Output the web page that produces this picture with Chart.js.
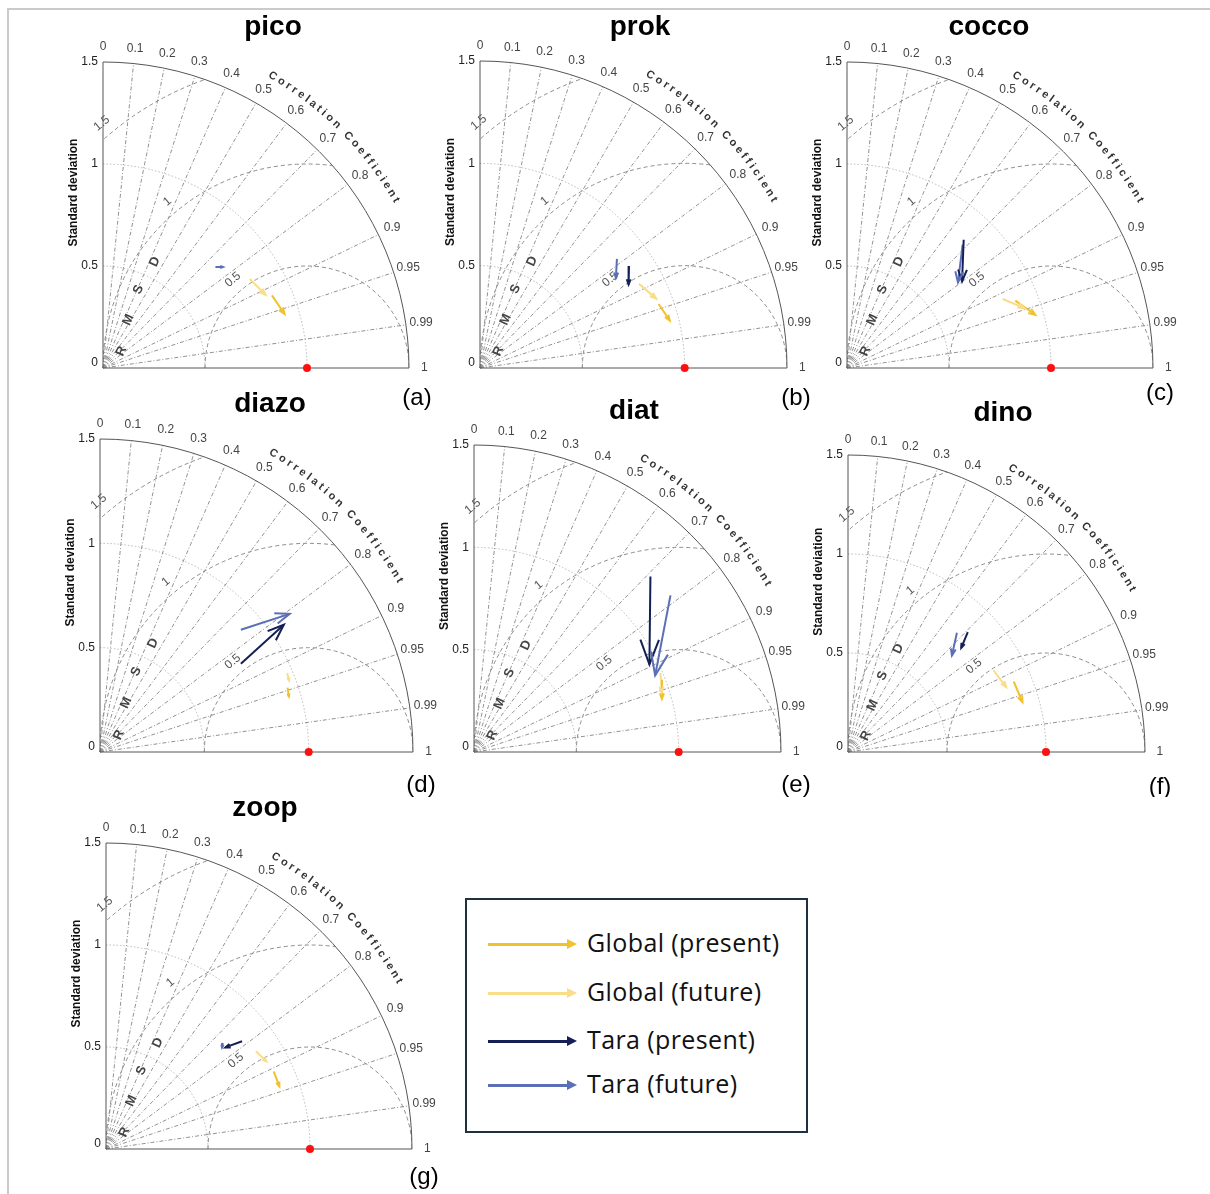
<!DOCTYPE html>
<html>
<head>
<meta charset="utf-8">
<script src="https://cdn.jsdelivr.net/npm/chart.js@4.4.1/dist/chart.umd.min.js"></script>
<style>
html, body { margin: 0; padding: 0; background: #fff; }
#page { position: relative; width: 1210px; height: 1194px; overflow: hidden; font-family: 'Liberation Sans', Arial, sans-serif; }
#page canvas { position: absolute; }
.marco-top { position: absolute; left: 7px; top: 8px; width: 1203px; height: 2px; background: #cacaca; }
.marco-izq { position: absolute; left: 7px; top: 8px; width: 2px; height: 1186px; background: #cacaca; }
#leyenda { position: absolute; left: 465px; top: 898px; width: 339px; height: 231px; border: 2px solid #1d3142; }
.fila { position: absolute; left: 21px; height: 30px; width: 320px; }
.asta { position: absolute; left: 0; top: 14px; width: 80px; height: 3px; }
.punta { position: absolute; left: 79px; top: 10px; width: 0; height: 0; border-top: 5px solid transparent; border-bottom: 5px solid transparent; border-left: 10px solid; }
.texto { position: absolute; left: 99px; top: -4px; font-family: 'Open Sans', sans-serif; font-size: 25px; letter-spacing: 0.4px; color: #111; white-space: nowrap; }
</style>
</head>
<body>
<div id="page">
  <div class="marco-top"></div>
  <div class="marco-izq"></div>
  <div id="leyenda"></div>
</div>
<script>
'use strict';

// ---- datos ----
const panelNames = ['pico', 'prok', 'cocco', 'diazo', 'diat', 'dino', 'zoop'];
const panelTags = ['(a)', '(b)', '(c)', '(d)', '(e)', '(f)', '(g)'];
const seriesNames = ['Global (present)', 'Global (future)', 'Tara (present)', 'Tara (future)'];

const corrTicks = [0, 0.1, 0.2, 0.3, 0.4, 0.5, 0.6, 0.7, 0.8, 0.9, 0.95, 0.99, 1];
const stdTicks = [0, 0.5, 1, 1.5];
const rmsdTicks = [0.5, 1, 1.5];
const refPoint = [1, 0];

// flechas [x0, y0, x1, y1] (sd*cos, sd*sin) por panel; null = no se ve
const globalPresent = [
    [0.828, 0.356, 0.890, 0.265],
    [0.873, 0.313, 0.927, 0.232],
    [0.825, 0.330, 0.923, 0.261],
    [0.899, 0.308, 0.905, 0.266],
    [0.919, 0.353, 0.918, 0.260],
    [0.837, 0.356, 0.881, 0.252],
    [0.822, 0.381, 0.850, 0.307]
];
const globalFuture = [
    [0.719, 0.436, 0.797, 0.359],
    [0.777, 0.411, 0.861, 0.339],
    [0.763, 0.338, 0.869, 0.294],
    [0.897, 0.378, 0.906, 0.343],
    [0.911, 0.386, 0.917, 0.293],
    [0.735, 0.412, 0.799, 0.328],
    [0.735, 0.479, 0.786, 0.430]
];
const taraPresent = [
    null,
    [0.728, 0.498, 0.726, 0.408],
    [0.572, 0.629, 0.564, 0.425],
    [0.675, 0.423, 0.881, 0.610],
    [0.862, 0.857, 0.857, 0.428],
    [0.605, 0.605, 0.572, 0.526],
    [0.667, 0.528, 0.585, 0.498]
];
const taraFuture = [
    [0.551, 0.495, 0.588, 0.495],
    [0.669, 0.533, 0.664, 0.440],
    [0.567, 0.605, 0.544, 0.420],
    [0.675, 0.586, 0.909, 0.662],
    [0.960, 0.765, 0.885, 0.374],
    [0.550, 0.602, 0.525, 0.488],
    [0.572, 0.520, 0.569, 0.498]
];

const seriesData = [globalPresent, globalFuture, taraPresent, taraFuture];
const seriesColors = ['#f2c12e', '#f9dd88', '#141f55', '#5b6fb6'];

// ---- posiciones de cada panel (origen, radio 1.5 en px, título, letra) ----
const layout = [
    { ox: 103, oy: 368, r: 306, title: [273, 27], tag: [417, 398] },
    { ox: 480, oy: 368, r: 307, title: [640, 27], tag: [796, 398] },
    { ox: 847, oy: 368, r: 306, title: [989, 27], tag: [1160, 393] },
    { ox: 100, oy: 752, r: 313, title: [270, 404], tag: [421, 785] },
    { ox: 474, oy: 752, r: 307, title: [634, 411], tag: [796, 785] },
    { ox: 848, oy: 752, r: 297, title: [1003, 413], tag: [1160, 787] },
    { ox: 106, oy: 1149, r: 306, title: [265, 808], tag: [424, 1177] }
];
const PAD = { left: 50, top: 60, right: 50, bottom: 45 };

function texto(ctx, str, x, y, rot, font, color, align, base) {
    ctx.save();
    ctx.translate(x, y);
    ctx.rotate(rot);
    ctx.font = font;
    ctx.fillStyle = color;
    ctx.textAlign = align || 'center';
    ctx.textBaseline = base || 'middle';
    ctx.fillText(str, 0, 0);
    ctx.restore();
}

const taylorPlugin = {
    id: 'taylor',
    beforeDatasetsDraw(chart, args, opts) {
        const ctx = chart.ctx;
        const X = v => chart.scales.x.getPixelForValue(v);
        const Y = v => chart.scales.y.getPixelForValue(v);
        const ox = X(0), oy = Y(0), u = X(1) - X(0);
        const rMax = stdTicks[stdTicks.length - 1];

        ctx.save();
        ctx.lineWidth = 1;

        // arcos de desviación estándar
        ctx.strokeStyle = '#b8b8b8';
        ctx.setLineDash([1.5, 2]);
        stdTicks.filter(s => s > 0 && s < rMax).forEach(s => {
            ctx.beginPath();
            ctx.arc(ox, oy, s * u, -Math.PI / 2, 0);
            ctx.stroke();
        });

        // arcos RMSD, recortados al cuarto de círculo
        ctx.save();
        ctx.beginPath();
        ctx.moveTo(ox, oy);
        ctx.arc(ox, oy, rMax * u, -Math.PI / 2, 0);
        ctx.closePath();
        ctx.clip();
        ctx.strokeStyle = '#8c8c8c';
        ctx.setLineDash([4, 3]);
        rmsdTicks.forEach(r => {
            ctx.beginPath();
            ctx.arc(X(refPoint[0]), Y(refPoint[1]), r * u, Math.PI, 2 * Math.PI);
            ctx.stroke();
        });
        ctx.restore();

        // radios de correlación
        ctx.strokeStyle = '#929292';
        ctx.setLineDash([4, 2, 1, 2]);
        corrTicks.filter(c => c > 0 && c < 1).forEach(c => {
            const t = Math.acos(c);
            ctx.beginPath();
            ctx.moveTo(ox, oy);
            ctx.lineTo(X(rMax * Math.cos(t)), Y(rMax * Math.sin(t)));
            ctx.stroke();
        });

        // borde exterior
        ctx.setLineDash([]);
        ctx.strokeStyle = '#555';
        ctx.beginPath();
        ctx.arc(ox, oy, rMax * u, -Math.PI / 2, 0);
        ctx.stroke();
        ctx.beginPath();
        ctx.moveTo(ox, Y(rMax));
        ctx.lineTo(ox, oy);
        ctx.lineTo(X(rMax), oy);
        ctx.stroke();
        ctx.restore();

        // etiquetas de correlación
        corrTicks.forEach(c => {
            const t = Math.acos(c);
            texto(ctx, String(c), X(1.575 * Math.cos(t)), Y(1.575 * Math.sin(t)), 0,
                '12px "Liberation Sans", Arial', '#444');
        });

        // etiquetas de desviación estándar
        stdTicks.forEach(s => {
            texto(ctx, String(s), ox - 5, Y(s) - (s === 0 ? 5 : 0), 0,
                '12px "Liberation Sans", Arial', '#222', 'right');
        });
        texto(ctx, 'Standard deviation', ox - 29, Y(0.86), -Math.PI / 2,
            'bold 12px "Liberation Sans", Arial', '#111');

        // etiquetas RMSD
        const phi = 130 * Math.PI / 180;
        rmsdTicks.forEach(r => {
            const rr = r + 0.065;
            texto(ctx, String(r), X(refPoint[0] + rr * Math.cos(phi)), Y(refPoint[1] + rr * Math.sin(phi)),
                -(phi - Math.PI / 2), '12px "Liberation Sans", Arial', '#555');
        });
        const rmsdPos = [[0.09, 0.082], [0.125, 0.236], [0.174, 0.385], [0.255, 0.521]];
        'RMSD'.split('').forEach((ch, i) => {
            texto(ctx, ch, X(rmsdPos[i][0]), Y(rmsdPos[i][1]), -1.15,
                'bold 13px "Liberation Sans", Arial', '#444');
        });

        // "Correlation Coefficient" sobre el arco
        const lab = 'Correlation Coefficient';
        const rr = 1.655 * u;
        const a0 = 60.5 * Math.PI / 180, a1 = 29.5 * Math.PI / 180;
        ctx.save();
        ctx.font = 'bold 11px "Liberation Sans", Arial';
        const anchos = lab.split('').map(ch => ctx.measureText(ch).width);
        const total = anchos.reduce((s, w) => s + w, 0);
        const esp = ((a0 - a1) * rr - total) / (lab.length - 1);
        ctx.restore();
        let recorrido = 0;
        lab.split('').forEach((ch, i) => {
            const th = a0 - (recorrido + anchos[i] / 2) / rr;
            recorrido += anchos[i] + esp;
            texto(ctx, ch, ox + rr * Math.cos(th), oy - rr * Math.sin(th), Math.PI / 2 - th,
                'bold 11px "Liberation Sans", Arial', '#333');
        });

        // título y letra del panel
        texto(ctx, opts.title, opts.titlePos[0], opts.titlePos[1], 0,
            'bold 28px "Liberation Sans", Arial', '#000');
        texto(ctx, opts.tag, opts.tagPos[0], opts.tagPos[1], 0,
            '24px "Liberation Sans", Arial', '#000');
    },
    afterDatasetsDraw(chart) {
        const ctx = chart.ctx;
        chart.data.datasets.forEach((ds, i) => {
            if (!ds.flecha) return;
            const pts = chart.getDatasetMeta(i).data;
            const p0 = pts[0], p1 = pts[1];
            const dx = p1.x - p0.x, dy = p1.y - p0.y;
            const len = Math.hypot(dx, dy);
            if (len < 1) return;
            const h = Math.max(3, len * 0.3);
            const a = Math.atan2(dy, dx), w = 0.36;
            ctx.save();
            ctx.strokeStyle = ds.borderColor;
            ctx.lineWidth = 2;
            ctx.lineJoin = 'miter';
            ctx.beginPath();
            ctx.moveTo(p1.x - h * Math.cos(a - w), p1.y - h * Math.sin(a - w));
            ctx.lineTo(p1.x, p1.y);
            ctx.lineTo(p1.x - h * Math.cos(a + w), p1.y - h * Math.sin(a + w));
            ctx.stroke();
            ctx.restore();
        });
    }
};

function crearTaylor(i) {
    const L = layout[i];
    const left = L.ox - PAD.left, top = L.oy - L.r - PAD.top;
    const canvas = document.createElement('canvas');
    canvas.width = L.r + PAD.left + PAD.right;
    canvas.height = L.r + PAD.top + PAD.bottom;
    canvas.style.left = left + 'px';
    canvas.style.top = top + 'px';
    canvas.style.width = canvas.width + 'px';
    canvas.style.height = canvas.height + 'px';
    document.getElementById('page').appendChild(canvas);

    const datasets = [];
    seriesData.forEach((serie, k) => {
        const f = serie[i];
        if (!f) return;
        datasets.push({
            label: seriesNames[k],
            flecha: true,
            data: [{ x: f[0], y: f[1] }, { x: f[2], y: f[3] }],
            showLine: true,
            borderColor: seriesColors[k],
            borderWidth: 2,
            pointRadius: 0,
            clip: false
        });
    });
    datasets.push({
        label: 'ref',
        data: [{ x: refPoint[0], y: refPoint[1] }],
        pointRadius: 4,
        pointBackgroundColor: '#ff1010',
        pointBorderWidth: 0,
        clip: false
    });

    const rMax = stdTicks[stdTicks.length - 1];
    return new Chart(canvas.getContext('2d'), {
        type: 'scatter',
        data: { datasets: datasets },
        options: {
            responsive: false,
            animation: false,
            devicePixelRatio: 1,
            layout: { padding: PAD },
            scales: {
                x: { type: 'linear', min: 0, max: rMax, display: false },
                y: { type: 'linear', min: 0, max: rMax, display: false }
            },
            plugins: {
                legend: { display: false },
                tooltip: { enabled: false },
                taylor: {
                    title: panelNames[i],
                    titlePos: [L.title[0] - left, L.title[1] - top],
                    tag: panelTags[i],
                    tagPos: [L.tag[0] - left, L.tag[1] - top]
                }
            }
        },
        plugins: [taylorPlugin]
    });
}

panelNames.forEach((n, i) => crearTaylor(i));

// ---- leyenda ----
const leyenda = document.getElementById('leyenda');
const filasY = [29, 78, 126, 170];
seriesNames.forEach((nombre, k) => {
    const fila = document.createElement('div');
    fila.className = 'fila';
    fila.style.top = filasY[k] + 'px';
    fila.innerHTML = '<div class="asta" style="background:' + seriesColors[k] + '"></div>' +
        '<div class="punta" style="border-left-color:' + seriesColors[k] + '"></div>' +
        '<div class="texto">' + nombre + '</div>';
    leyenda.appendChild(fila);
});
</script>
</body>
</html>
